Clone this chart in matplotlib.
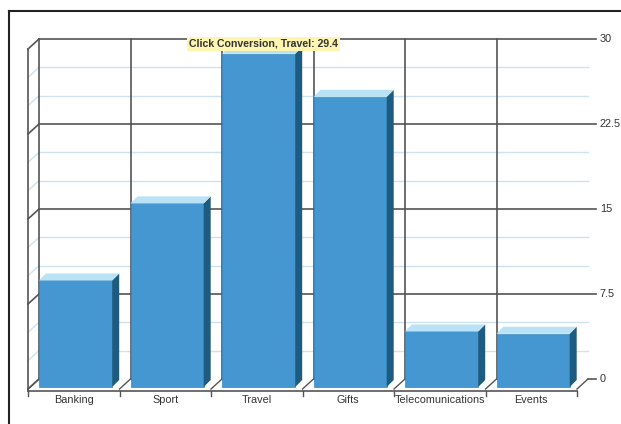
import matplotlib
matplotlib.use("Agg")
import matplotlib.pyplot as plt
from matplotlib.patches import Rectangle, Polygon
from matplotlib.lines import Line2D

categories = ["Banking", "Sport", "Travel", "Gifts", "Telecomunications", "Events"]
values = [9.4, 16.2, 29.4, 25.6, 4.9, 4.7]
major_ticks = [0, 7.5, 15, 22.5, 30]
tick_labels = ["0", "7.5", "15", "22.5", "30"]
minor_ticks = [2.5, 5, 10, 12.5, 17.5, 20, 25, 27.5]
tooltip = "Click Conversion, Travel: 29.4"

plt.rcParams['font.family'] = ['Liberation Sans', 'DejaVu Sans']

W, H = 621, 424
fig = plt.figure(figsize=(W / 100, H / 100), dpi=100)
left, right, top, bottom = 39, 588, 39, 379
ax = fig.add_axes([left / W, (H - bottom) / H, (right - left) / W, (bottom - top) / H])
n = len(categories)
ax.set_xlim(0, n)
ax.set_ylim(0, 30)
ax.axis("off")

# pixel -> data units
dx = n / (right - left)
dy = 30 / (bottom - top)
depth_x, depth_y = 11, 10   # front plane offset (left, down)
bar_w = 0.8
dark = "#555555"
minor_c = "#cfe2ef"
text_c = "#333333"

# back wall gridlines
for t in minor_ticks:
    ax.plot([0, n], [t, t], color=minor_c, lw=1, zorder=1, clip_on=False)
    ax.plot([0, -depth_x * dx], [t, t - depth_y * dy], color=minor_c, lw=1, zorder=1, clip_on=False)
for t, lab in zip(major_ticks, tick_labels):
    if t > 0:
        ax.plot([0, n + 8 * dx], [t, t], color=dark, lw=1.2, zorder=2, clip_on=False)
    else:
        ax.plot([n, n + 8 * dx], [t, t], color=dark, lw=1.2, zorder=2, clip_on=False)
    ax.plot([0, -depth_x * dx], [t, t - depth_y * dy], color=dark, lw=1.2, zorder=2, clip_on=False)
    ax.text(n + 12 * dx, t, lab, fontsize=7.8, color=text_c, va="center", ha="left")
for i in range(n):
    ax.plot([i, i], [0, 30], color=dark, lw=1.2, zorder=2, clip_on=False)
# floor diagonals
for i in range(n + 1):
    ax.plot([i, i - depth_x * dx], [0, -depth_y * dy], color=dark, lw=1.0, zorder=2, clip_on=False)
    ax.plot([i - depth_x * dx, i - depth_x * dx], [-(depth_y + 2) * dy, -(depth_y + 7) * dy],
            color=dark, lw=1.0, zorder=2, clip_on=False)
# front left edge and front bottom edge
ax.plot([-depth_x * dx, -depth_x * dx], [-(depth_y + 2) * dy, 30 - depth_y * dy],
        color=dark, lw=1.2, zorder=2, clip_on=False)
ax.plot([-depth_x * dx, n - depth_x * dx], [-(depth_y + 2) * dy, -(depth_y + 2) * dy],
        color=dark, lw=1.2, zorder=2, clip_on=False)

# bars
front_c, side_c, top_c = "#4597d1", "#1c5b82", "#b9e2f6"
off = 8 * dy
sx, sy = 7 * dx, 7 * dy
for i, v in enumerate(values):
    x0, x1 = i, i + bar_w
    ax.add_patch(Rectangle((x0, -off), bar_w, v, facecolor=front_c, edgecolor="#3a88c0",
                           lw=0.5, zorder=5, clip_on=False))
    ax.add_patch(Polygon([(x1, -off), (x1 + sx, -off + sy), (x1 + sx, v - off + sy), (x1, v - off)],
                         closed=True, facecolor=side_c, edgecolor="none", zorder=5, clip_on=False))
    ax.add_patch(Polygon([(x0, v - off), (x1, v - off), (x1 + sx, v - off + sy), (x0 + sx, v - off + sy)],
                         closed=True, facecolor=top_c, edgecolor="none", zorder=5, clip_on=False))
    ax.text(i + bar_w / 2 - 2 * dx, -21 * dy, categories[i], fontsize=7.8, color=text_c,
            ha="center", va="center", zorder=6)

# tooltip
ti = categories.index("Travel")
ax.text(ti + bar_w / 2 + 5 * dx, values[ti] + 2 * dy, tooltip, fontsize=7.6, fontweight="bold",
        color="#333333", ha="center", va="center", zorder=10,
        bbox=dict(boxstyle="square,pad=0.2", facecolor="#fdf5b0", edgecolor="none"))

# outer frame
fig.add_artist(Line2D([9 / W, 9 / W], [0, 1 - 11 / H], color="#222222", lw=1.5))
fig.add_artist(Line2D([9 / W, 1], [1 - 11 / H, 1 - 11 / H], color="#222222", lw=1.5))

fig.savefig("out.png", dpi=100)
